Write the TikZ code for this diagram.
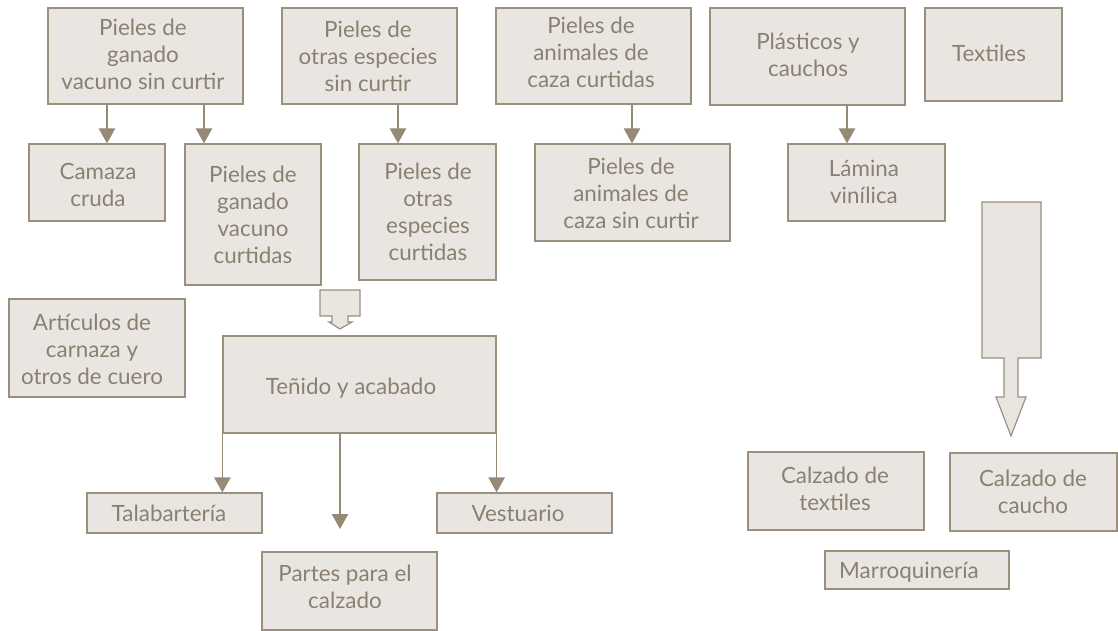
\documentclass[tikz,border=0pt]{standalone}
\usepackage{fontspec}
\setmainfont{Lato}
\usetikzlibrary{arrows.meta,fit}
\definecolor{boxfill}{HTML}{E9E6E1}
\definecolor{boxline}{HTML}{9B8F7F}
\definecolor{txtcol}{HTML}{8B7F70}
\definecolor{arrcol}{HTML}{968A77}
\tikzset{
  box/.style={draw=boxline, fill=boxfill, line width=0.9pt, inner sep=0pt, rectangle},
  txt/.style={text=txtcol, font=\fontsize{16.8}{20.25}\selectfont, align=center, inner sep=0pt},
  conn/.style={draw=arrcol, line width=0.9pt, -{Triangle[length=11.25pt,width=12.3pt]}},
  blockarrow/.style={draw=boxline, fill=boxfill, line width=0.9pt, line join=miter}
}
\begin{document}
\begin{tikzpicture}[x=0.75pt,y=-0.75pt]
\useasboundingbox (0,0) rectangle (1118,631);
% top row
\node[box, fit={(48,8) (243,104)}] (A) {};
\node[box, fit={(282,8) (457,104)}] (B) {};
\node[box, fit={(496,8) (691,104)}] (C) {};
\node[box, fit={(710,8) (905,105)}] (D) {};
\node[box, fit={(925,8) (1062,101)}] (E) {};
\node[txt] (tA) at (143,54) {Pieles de\\ganado\\vacuno sin curtir};
\node[txt] (tB) at (368,56) {Pieles de\\otras especies\\sin curtir};
\node[txt] (tC) at (591,52) {Pieles de\\animales de\\caza curtidas};
\node[txt] (tD) at (808,55) {Plásticos y\\cauchos};
\node[txt] (tE) at (989,53) {Textiles};
% second row
\node[box, fit={(29,144) (165,221)}] (F) {};
\node[box, fit={(185,144) (321,285)}] (G) {};
\node[box, fit={(359,144) (496,280)}] (H) {};
\node[box, fit={(535,144) (730,241)}] (I) {};
\node[box, fit={(788,144) (945,221)}] (J) {};
\node[txt] (tF) at (98,185) {Camaza\\cruda};
\node[txt] (tG) at (253,215) {Pieles de\\ganado\\vacuno\\curtidas};
\node[txt] (tH) at (428,212) {Pieles de\\otras\\especies\\curtidas};
\node[txt] (tI) at (631,193) {Pieles de\\animales de\\caza sin curtir};
\node[txt] (tJ) at (864,182) {Lámina\\vinílica};
% arrows top -> second row
\coordinate (x1) at (107,0);
\coordinate (x2) at (204,0);
\coordinate (x3) at (398,0);
\coordinate (x4) at (632,0);
\coordinate (x5) at (847,0);
\draw[conn] (A.south -| x1) -- (F.north -| x1);
\draw[conn] (A.south -| x2) -- (G.north -| x2);
\draw[conn] (B.south -| x3) -- (H.north -| x3);
\draw[conn] (C.south -| x4) -- (I.north -| x4);
\draw[conn] ([yshift=1.5pt]D.south -| x5) -- (J.north -| x5);
% small block arrow
\path[blockarrow] (320,290) -- (360,290) -- (360,316) -- (348,316) -- (348,322) -- (352,322)
  -- (340,329) -- (329,322) -- (332,322) -- (332,316) -- (320,316) -- cycle;
% big block arrow
\path[blockarrow] (982,202) -- (1041,202) -- (1041,358) -- (1018,358) -- (1018,397) -- (1026,397)
  -- (1011,436) -- (996,397) -- (1004,397) -- (1004,358) -- (982,358) -- cycle;
% lower part
\node[box, fit={(9,299) (185,397)}] (K) {};
\node[txt] (tK) at (92,349) {Artículos de\\carnaza y\\otros de cuero};
\node[box, fit={(223,336) (496,433)}] (T) {};
\node[txt] (tT) at (351,388) {Teñido y acabado};
\node[box, fit={(87,493) (262,533)}] (L) {};
\node[txt] (tL) at (169,513) {Talabartería};
\node[box, fit={(437,493) (612,533)}] (M) {};
\node[txt] (tM) at (518,513) {Vestuario};
\node[box, fit={(262,552) (437,630)}] (N) {};
\node[txt] (tN) at (345,587) {Partes para el\\calzado};
\coordinate (x6) at (340,0);
\coordinate (pend) at (340,529);
\draw[conn] (T.south west) -- (L.north -| T.south west);
\draw[conn] (T.south -| x6) -- (pend);
\draw[conn] (T.south east) -- (M.north -| T.south east);
% right bottom
\node[box, fit={(748,452) (924,530)}] (P) {};
\node[txt] (tP) at (835,489) {Calzado de\\textiles};
\node[box, fit={(950,453) (1117,531)}] (Q) {};
\node[txt] (tQ) at (1033,492) {Calzado de\\caucho};
\node[box, fit={(825,551) (1009,589)}] (R) {};
\node[txt] (tR) at (909,572) {Marroquinería};
\end{tikzpicture}
\end{document}
